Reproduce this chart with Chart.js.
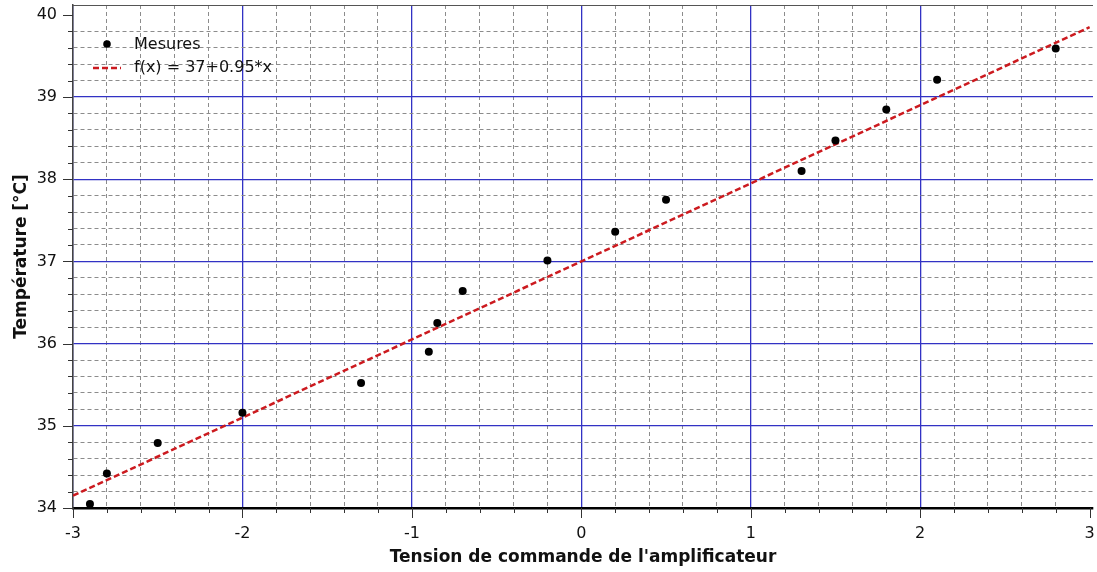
<!DOCTYPE html>
<html>
<head>
<meta charset="utf-8">
<script src="https://cdn.jsdelivr.net/npm/chart.js@4/dist/chart.umd.min.js"></script>
<style>
  html, body { margin: 0; padding: 0; background: #fff; }
</style>
</head>
<body>
<canvas id="c" width="1097" height="572"></canvas>
<script>
// measured points
const tensions = [-2.9, -2.8, -2.5, -2.0, -1.3, -0.9, -0.85, -0.7, -0.2, 0.2, 0.5, 1.3, 1.5, 1.8, 2.1, 2.8];
const temperatures = [34.05, 34.42, 34.79, 35.16, 35.52, 35.90, 36.25, 36.64, 37.01, 37.36, 37.75, 38.10, 38.47, 38.85, 39.21, 39.59];

// fitted line f(x) = 37 + 0.95*x, end points
const fitX = [-3, 3];
const fitY = [34.15, 39.85];

const xTickLabels = [-3, -2, -1, 0, 1, 2, 3];
const yTickLabels = [34, 35, 36, 37, 38, 39, 40];

const FONT = 'DejaVu Sans';
const MAJOR = '#3232c4';
const MINOR = '#8c8c8c';

function isMajor(v) {
    return Math.abs(v - Math.round(v)) < 1e-6;
}

// a tick every 0.2 between the first and last labelled value
function minorTicks(labels) {
    const first = labels[0], last = labels[labels.length - 1];
    const out = [];
    for (let i = 0; i <= Math.round((last - first) * 5); i++) {
        out.push({ value: Math.round((first + i * 0.2) * 10) / 10 });
    }
    return out;
}

function gridColor(ctx, labels) {
    if (!ctx.tick) return MINOR;
    const v = ctx.tick.value;
    if (v === labels[labels.length - 1]) return 'rgba(0,0,0,0)';
    return isMajor(v) ? MAJOR : MINOR;
}

function gridWidth(ctx) {
    return ctx.tick && isMajor(ctx.tick.value) ? 1.3 : 1;
}

function gridDash(ctx) {
    if (!ctx.tick) return [];
    return isMajor(ctx.tick.value) ? [] : [4, 3];
}

const tickMarks = {
    id: 'tickMarks',
    afterDraw(chart) {
        const ctx = chart.ctx;
        const area = chart.chartArea;
        const xs = chart.scales.x, ys = chart.scales.y;
        ctx.save();
        // top frame
        ctx.strokeStyle = '#555';
        ctx.lineWidth = 1;
        ctx.beginPath();
        ctx.moveTo(area.left, area.top + 0.5);
        ctx.lineTo(area.right, area.top + 0.5);
        ctx.stroke();

        ctx.strokeStyle = '#333';
        ctx.lineWidth = 1;
        ys.ticks.forEach(t => {
            const y = Math.round(ys.getPixelForValue(t.value)) + 0.5;
            const len = isMajor(t.value) ? 10 : 5;
            ctx.beginPath();
            ctx.moveTo(area.left - len, y);
            ctx.lineTo(area.left, y);
            ctx.stroke();
        });
        xs.ticks.forEach(t => {
            const x = Math.round(xs.getPixelForValue(t.value)) + 0.5;
            const len = isMajor(t.value) ? 10 : 5;
            ctx.beginPath();
            ctx.moveTo(x, area.bottom);
            ctx.lineTo(x, area.bottom + len);
            ctx.stroke();
        });
        ctx.restore();
    }
};

const legendBox = {
    id: 'legendBox',
    afterDraw(chart) {
        const ctx = chart.ctx;
        const [pts, fit] = chart.data.datasets;
        ctx.save();
        ctx.font = '16px "' + FONT + '"';
        ctx.textBaseline = 'middle';

        ctx.beginPath();
        ctx.arc(107, 44, 3.8, 0, Math.PI * 2);
        ctx.fillStyle = pts.backgroundColor;
        ctx.fill();
        ctx.fillStyle = '#111';
        ctx.fillText(pts.label, 134, 45);

        ctx.strokeStyle = fit.borderColor;
        ctx.lineWidth = fit.borderWidth;
        ctx.setLineDash(fit.borderDash);
        ctx.beginPath();
        ctx.moveTo(93, 68);
        ctx.lineTo(121, 68);
        ctx.stroke();
        ctx.setLineDash([]);
        ctx.fillText(fit.label, 134, 68);
        ctx.restore();
    }
};

new Chart(document.getElementById('c'), {
    type: 'scatter',
    data: {
        datasets: [{
            label: 'Mesures',
            data: tensions.map((x, i) => ({ x: x, y: temperatures[i] })),
            backgroundColor: '#000',
            borderColor: '#000',
            pointRadius: 4,
            pointBorderWidth: 0
        }, {
            label: 'f(x) = 37+0.95*x',
            type: 'line',
            data: fitX.map((x, i) => ({ x: x, y: fitY[i] })),
            borderColor: '#cc1a1f',
            borderWidth: 2.5,
            borderDash: [6, 3],
            pointRadius: 0,
            fill: false
        }]
    },
    options: {
        responsive: false,
        animation: false,
        devicePixelRatio: 1,
        layout: { padding: { top: 5, right: 1, left: 0, bottom: 0 } },
        plugins: {
            legend: { display: false },
            tooltip: { enabled: false }
        },
        scales: {
            x: {
                type: 'linear',
                min: -3,
                max: 3.02,
                afterBuildTicks: s => { s.ticks = minorTicks(xTickLabels); },
                afterFit: s => { s.height = 64; s.paddingLeft = 0; s.paddingRight = 0; },
                ticks: {
                    autoSkip: false,
                    maxRotation: 0,
                    padding: 16,
                    color: '#111',
                    font: { family: FONT, size: 16 },
                    callback: v => isMajor(v) ? String(Math.round(v)) : ''
                },
                grid: {
                    drawTicks: false,
                    color: c => gridColor(c, xTickLabels),
                    lineWidth: gridWidth
                },
                border: { display: true, color: '#000', width: 2.5, dash: gridDash },
                title: {
                    display: true,
                    text: "Tension de commande de l'amplificateur",
                    color: '#111',
                    font: { family: FONT, size: 17, weight: 'bold' },
                    padding: { top: 0, bottom: 4 }
                }
            },
            y: {
                type: 'linear',
                min: 34,
                max: 40.12,
                afterBuildTicks: s => { s.ticks = minorTicks(yTickLabels); },
                afterFit: s => { s.width = 73; s.paddingTop = 0; s.paddingBottom = 0; },
                ticks: {
                    autoSkip: false,
                    padding: 16,
                    color: '#111',
                    font: { family: FONT, size: 16 },
                    callback: v => isMajor(v) ? String(Math.round(v)) : ''
                },
                grid: {
                    drawTicks: false,
                    color: c => gridColor(c, yTickLabels),
                    lineWidth: gridWidth
                },
                border: { display: true, color: '#444', width: 1.5, dash: gridDash },
                title: {
                    display: true,
                    text: 'Température [°C]',
                    color: '#111',
                    font: { family: FONT, size: 17, weight: 'bold' },
                    padding: { top: 11, bottom: 0 }
                }
            }
        }
    },
    plugins: [tickMarks, legendBox]
});
</script>
</body>
</html>
